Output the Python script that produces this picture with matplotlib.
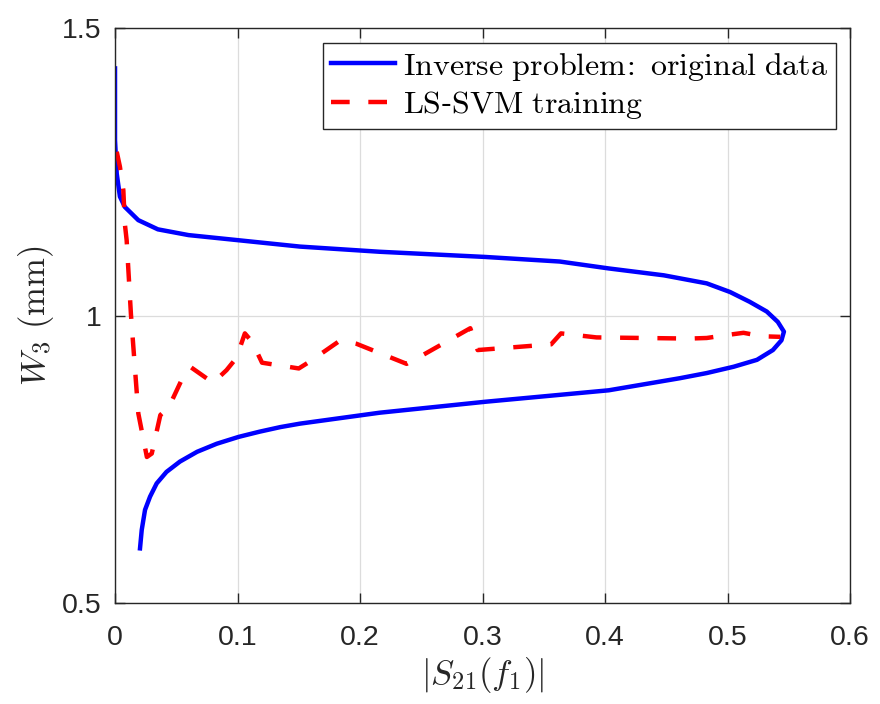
import numpy as np
import matplotlib.pyplot as plt

plt.rcParams['mathtext.fontset'] = 'cm'
plt.rcParams['font.family'] = ['Liberation Sans', 'DejaVu Sans']

# inverse problem: original data (|S21|, W3)
orig_s21 = [0.0, 0.0, 0.0014, 0.004, 0.008, 0.019, 0.035, 0.060, 0.101, 0.151,
            0.216, 0.302, 0.363, 0.403, 0.448, 0.483, 0.502, 0.518, 0.532, 0.541,
            0.546, 0.544, 0.537, 0.524, 0.505, 0.483, 0.461, 0.403, 0.302, 0.216,
            0.151, 0.135, 0.118, 0.101, 0.083, 0.067, 0.053, 0.042, 0.034, 0.0286,
            0.0245, 0.0218, 0.0204]
orig_w3 = [1.43, 1.305, 1.247, 1.207, 1.189, 1.166, 1.150, 1.140, 1.131, 1.120,
           1.111, 1.102, 1.094, 1.082, 1.070, 1.056, 1.041, 1.024, 1.007, 0.989,
           0.972, 0.957, 0.940, 0.923, 0.911, 0.900, 0.891, 0.870, 0.850, 0.831,
           0.812, 0.806, 0.798, 0.789, 0.777, 0.763, 0.746, 0.728, 0.708, 0.685,
           0.662, 0.627, 0.595]

# LS-SVM training
svm_s21 = [0.0014, 0.004, 0.0068, 0.008, 0.0095, 0.013, 0.019, 0.026, 0.030, 0.037,
           0.044, 0.057, 0.062, 0.080, 0.091, 0.099, 0.106, 0.112, 0.120, 0.150,
           0.159, 0.184, 0.197, 0.238, 0.251, 0.290, 0.296, 0.356, 0.364, 0.393,
           0.469, 0.483, 0.499, 0.513, 0.528, 0.543]
svm_w3 = [1.285, 1.259, 1.218, 1.160, 1.131, 1.002, 0.830, 0.754, 0.760, 0.827,
          0.841, 0.900, 0.910, 0.883, 0.905, 0.926, 0.969, 0.954, 0.918, 0.908,
          0.920, 0.957, 0.951, 0.916, 0.931, 0.978, 0.940, 0.950, 0.969, 0.962,
          0.960, 0.961, 0.966, 0.970, 0.964, 0.963]

fig = plt.figure(figsize=(8.8, 7.04), dpi=100)
ax = fig.add_axes([0.1307, 0.1435, 0.8353, 0.8165])

ax.plot(orig_s21, orig_w3, color='#0000ff', lw=3.2,
        label=r'$\mathrm{Inverse\ problem\!:\ original\ data}$')
ax.plot(svm_s21, svm_w3, color='#ff0000', lw=3.2, dashes=(4.2, 4.2),
        label=r'$\mathrm{LS}$-$\mathrm{SVM\ training}$')

ax.set_xlim(0, 0.6)
ax.set_ylim(0.5, 1.5)
ax.set_xticks([0, 0.1, 0.2, 0.3, 0.4, 0.5, 0.6])
ax.set_xticklabels(['0', '0.1', '0.2', '0.3', '0.4', '0.5', '0.6'])
ax.set_yticks([0.5, 1, 1.5])
ax.set_yticklabels(['0.5', '1', '1.5'])
ax.grid(True, color='#dcdcdc', lw=0.9)
ax.tick_params(direction='in', length=7, width=1, top=True, right=True,
               labelsize=20.5, colors='#262626')
ax.tick_params(axis='x', pad=16)
ax.tick_params(axis='y', pad=10)
for s in ax.spines.values():
    s.set_color('#262626')
    s.set_linewidth(1)

ax.set_xlabel(r'$|S_{21}(f_1)|$', fontsize=25, color='#262626', labelpad=3)
ax.set_ylabel(r'$W_3\ \mathrm{(mm)}$', fontsize=25, color='#262626', labelpad=4)

leg = ax.legend(loc='upper right', fontsize=23, frameon=True, fancybox=False,
                edgecolor='#262626', framealpha=1, handlelength=2.0,
                handletextpad=0.25, borderpad=0.25, borderaxespad=0.45,
                labelspacing=0.2)
leg.get_frame().set_linewidth(1)

fig.savefig('out.png', dpi=100)
